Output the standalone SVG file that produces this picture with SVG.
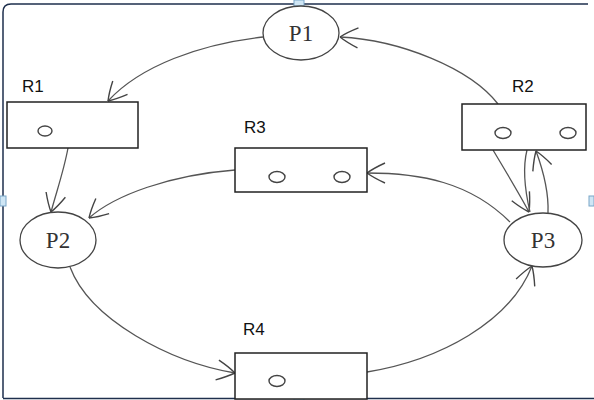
<svg xmlns="http://www.w3.org/2000/svg" width="594" height="400" viewBox="0 0 594 400">
  <style>
    .frame { stroke: #1e2f4d; stroke-width: 1.5; fill: none; }
    .handle { fill: #cfe6f5; stroke: #7aa6c8; stroke-width: 1; }
    .proc { fill: #ffffff; stroke: #444; stroke-width: 1.3; }
    .res { fill: #ffffff; stroke: #222; stroke-width: 1.5; }
    .dot { fill: none; stroke: #444; stroke-width: 1.4; }
    .plabel { font-family: "Liberation Serif", "DejaVu Serif", serif; font-size: 23px; fill: #333; text-anchor: middle; }
    .rlabel { font-family: "Liberation Sans", Arial, sans-serif; font-size: 17px; fill: #111; }
    .edge { fill: none; stroke: #555; stroke-width: 1.3; marker-end: url(#arrow); }
    .plain { fill: none; stroke: #555; stroke-width: 1.3; }
  </style>
  <defs>
    <!-- open, slightly curved arrowhead -->
    <marker id="arrow" viewBox="0 0 24 24" refX="21" refY="12" markerWidth="24" markerHeight="24" markerUnits="userSpaceOnUse" orient="auto">
      <path d="M3,2 Q14,7 21,12 M3,22 Q14,17 21,12" fill="none" stroke="#444" stroke-width="1.4"/>
    </marker>
  </defs>

  <rect width="594" height="400" fill="#ffffff"/>

  <!-- selection frame -->
  <g id="frame">
    <path class="frame" d="M3,398 L3,12 Q3,4 11,4 L588,4"/>
    <path class="frame" d="M3,398.5 L594,398.5"/>
    <rect class="handle" x="294" y="0" width="10" height="6"/>
    <rect class="handle" x="0" y="196" width="6" height="10"/>
    <rect class="handle" x="589" y="196" width="5" height="10"/>
    <rect class="handle" x="294" y="394" width="10" height="6"/>
  </g>

  <g id="connectors">
    <path class="edge" d="M263,37 C200,44 140,66 108,101"/>
    <path class="edge" d="M68,148 C64,170 57,190 51,212"/>
    <path class="edge" d="M235,170 C170,175 115,195 89,218"/>
    <path class="edge" d="M70,267 C90,320 170,362 235,373"/>
    <path class="edge" d="M367,372 C440,360 510,322 532,266"/>
    <path class="edge" d="M510,222 C470,182 420,173 367,173"/>
    <path class="edge" d="M498,104 C470,68 400,40 340,37"/>
    <path class="edge" d="M493,150 C505,170 520,195 529,212"/>
    <path class="plain" d="M527,150 C522,170 526,195 530,212"/>
    <path class="edge" d="M548,213 C549,190 543,170 536,151"/>
  </g>

  <g id="P1">
    <ellipse class="proc" cx="301" cy="33" rx="38" ry="27"/>
    <text class="plabel" x="301" y="41">P1</text>
  </g>
  <g id="P2">
    <ellipse class="proc" cx="58" cy="240" rx="38" ry="28"/>
    <text class="plabel" x="58" y="248">P2</text>
  </g>
  <g id="P3">
    <ellipse class="proc" cx="543" cy="240" rx="39" ry="27"/>
    <text class="plabel" x="543" y="248">P3</text>
  </g>

  <g id="R1">
    <text class="rlabel" x="22" y="92">R1</text>
    <rect class="res" x="7" y="102" width="131" height="46"/>
    <ellipse class="dot" cx="45" cy="131" rx="7" ry="5"/>
  </g>
  <g id="R2">
    <text class="rlabel" x="512" y="92">R2</text>
    <rect class="res" x="462" y="104" width="124" height="46"/>
    <ellipse class="dot" cx="503" cy="133" rx="8" ry="5.5"/>
    <ellipse class="dot" cx="568" cy="133" rx="8" ry="5.5"/>
  </g>
  <g id="R3">
    <text class="rlabel" x="244" y="133">R3</text>
    <rect class="res" x="235" y="148" width="132" height="44"/>
    <ellipse class="dot" cx="277" cy="177" rx="8" ry="5.5"/>
    <ellipse class="dot" cx="342" cy="177" rx="8" ry="5.5"/>
  </g>
  <g id="R4">
    <text class="rlabel" x="243" y="335">R4</text>
    <rect class="res" x="235" y="353" width="132" height="46"/>
    <ellipse class="dot" cx="277" cy="381" rx="8" ry="5.5"/>
  </g>
</svg>
